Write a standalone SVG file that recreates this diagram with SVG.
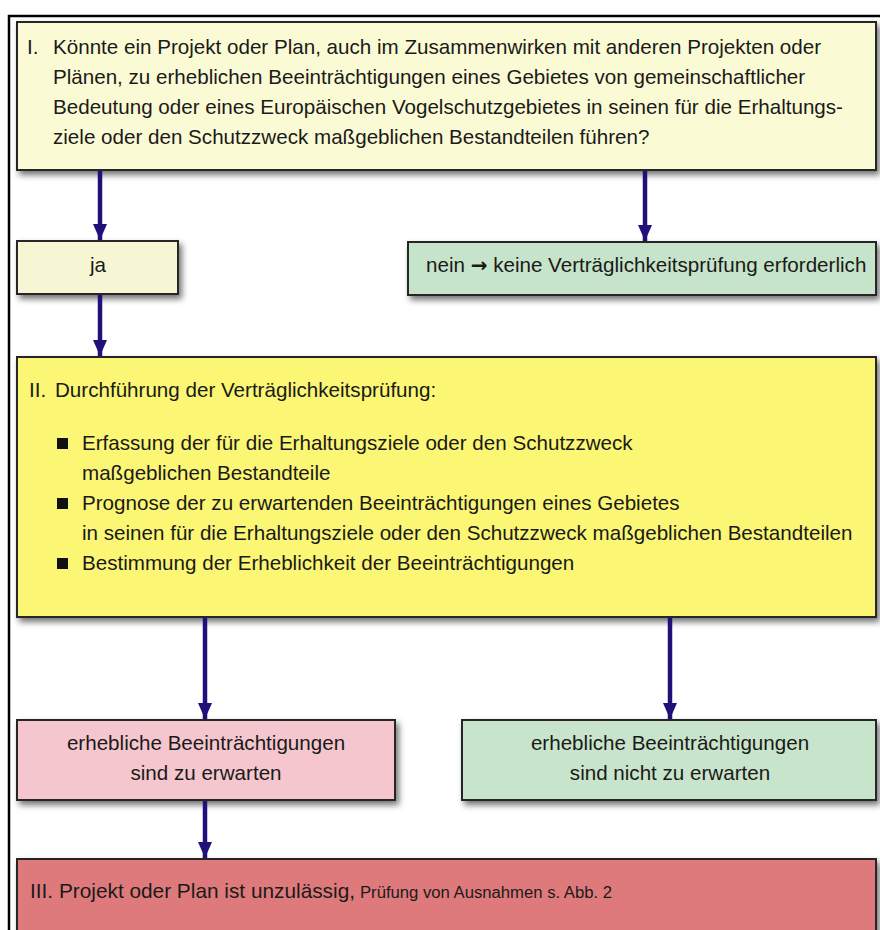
<svg xmlns="http://www.w3.org/2000/svg" width="880" height="930" viewBox="0 0 880 930">
<defs>
<filter id="sh" x="-5%" y="-10%" width="115%" height="130%">
<feDropShadow dx="3" dy="4" stdDeviation="3" flood-color="#000" flood-opacity="0.55"/>
</filter>
<marker id="ah" markerUnits="userSpaceOnUse" markerWidth="16" markerHeight="14" refX="16" refY="7" orient="auto" viewBox="0 0 16 14">
<path d="M0,0 L16,7 L0,14 z" fill="#22107a"/>
</marker>
<style>
.box{stroke:#262626;stroke-width:2;filter:url(#sh)}
.t{font-family:"Liberation Sans",Arial,sans-serif;font-size:20.6px;fill:#1a1a1a}
.c{text-anchor:middle}
.n{font-family:"Liberation Sans",Arial,sans-serif;fill:#1a1a1a}
.con line{stroke:#22107a;stroke-width:4.5;marker-end:url(#ah)}
</style>
</defs>
<rect width="880" height="930" fill="#ffffff"/>
<path d="M9,930 V16 H880" fill="none" stroke="#000" stroke-width="2.5"/>

<g id="node-I">
<rect class="box" x="17" y="22" width="859" height="148" fill="#fafad4"/>
<text class="t" x="27" y="54">I.</text>
<text class="t" x="53" y="54">Könnte ein Projekt oder Plan, auch im Zusammenwirken mit anderen Projekten oder</text>
<text class="t" x="53" y="84">Plänen, zu erheblichen Beeinträchtigungen eines Gebietes von gemeinschaftlicher</text>
<text class="t" x="53" y="114">Bedeutung oder eines Europäischen Vogelschutzgebietes in seinen für die Erhaltungs-</text>
<text class="t" x="53" y="144">ziele oder den Schutzzweck maßgeblichen Bestandteilen führen?</text>
</g>

<g id="node-ja">
<rect class="box" x="17" y="241" width="161" height="53" fill="#f6f6d4"/>
<text class="t c" x="98" y="272">ja</text>
</g>

<g id="node-nein">
<rect class="box" x="408" y="242" width="468" height="53" fill="#c6e4c9"/>
<text class="t" x="426" y="272">nein <tspan font-family="DejaVu Sans" font-weight="bold" font-size="20">→</tspan> keine Verträglichkeitsprüfung erforderlich</text>
</g>

<g id="node-II">
<rect class="box" x="17" y="357" width="859" height="260" fill="#fbf673"/>
<text class="t" x="29" y="397">II.</text>
<text class="t" x="55" y="397">Durchführung der Verträglichkeitsprüfung:</text>
<rect x="57" y="438" width="11" height="11" fill="#111"/>
<text class="t" x="82" y="450">Erfassung der für die Erhaltungsziele oder den Schutzzweck</text>
<text class="t" x="82" y="480">maßgeblichen Bestandteile</text>
<rect x="57" y="498" width="11" height="11" fill="#111"/>
<text class="t" x="82" y="510">Prognose der zu erwartenden Beeinträchtigungen eines Gebietes</text>
<text class="t" x="82" y="540">in seinen für die Erhaltungsziele oder den Schutzzweck maßgeblichen Bestandteilen</text>
<rect x="57" y="558" width="11" height="11" fill="#111"/>
<text class="t" x="82" y="570">Bestimmung der Erheblichkeit der Beeinträchtigungen</text>
</g>

<g id="node-erheblich">
<rect class="box" x="17" y="720" width="378" height="80" fill="#f5c6cd"/>
<text class="t c" x="206" y="750">erhebliche Beeinträchtigungen</text>
<text class="t c" x="206" y="780">sind zu erwarten</text>
</g>

<g id="node-nicht-erheblich">
<rect class="box" x="462" y="720" width="414" height="80" fill="#c8e4ca"/>
<text class="t c" x="670" y="750">erhebliche Beeinträchtigungen</text>
<text class="t c" x="670" y="780">sind nicht zu erwarten</text>
</g>

<g id="node-III">
<rect class="box" x="17" y="859" width="859" height="85" fill="#df7a7b"/>
<text class="n" x="30" y="898" font-size="21" textLength="325" lengthAdjust="spacingAndGlyphs">III. Projekt oder Plan ist unzulässig,</text>
<text class="n" x="360" y="898" font-size="16" textLength="252" lengthAdjust="spacingAndGlyphs">Prüfung von Ausnahmen s. Abb. 2</text>
</g>

<g id="connectors" class="con">
<line x1="100" y1="171" x2="100" y2="240"/>
<line x1="645" y1="171" x2="645" y2="241"/>
<line x1="100" y1="295" x2="100" y2="356"/>
<line x1="205" y1="618" x2="205" y2="719"/>
<line x1="670" y1="618" x2="670" y2="719"/>
<line x1="205" y1="801" x2="205" y2="858"/>
</g>
</svg>
